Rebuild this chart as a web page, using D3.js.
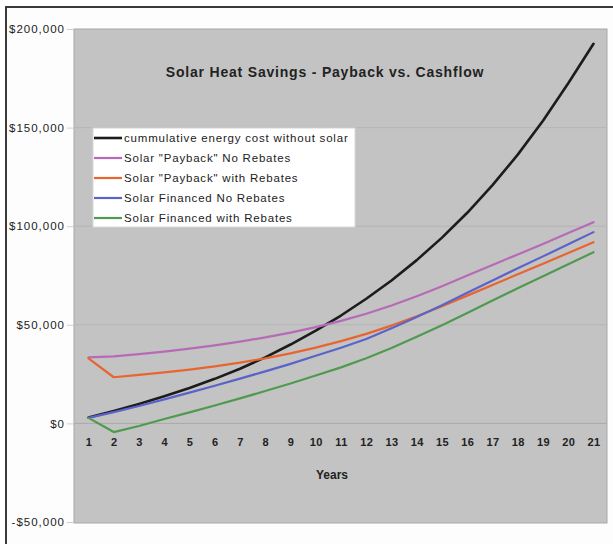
<!DOCTYPE html>
<html>
<head>
<meta charset="utf-8">
<script src="https://cdn.jsdelivr.net/npm/d3@7/dist/d3.min.js"></script>
<style>
  html, body { margin: 0; padding: 0; background: #ffffff; }
  svg { display: block; }
  text { font-family: Arial, "Liberation Sans", Helvetica, sans-serif; fill: #222; }
</style>
</head>
<body>
<svg id="chart" width="613" height="544"></svg>
<script>
// ---- data ----
const years = [1, 2, 3, 4, 5, 6, 7, 8, 9, 10, 11, 12, 13, 14, 15, 16, 17, 18, 19, 20, 21];

const costWithoutSolar = [3000, 6300, 9900, 13800, 18000, 22600, 27700, 33500, 40000, 47000, 54700,
  63200, 72500, 82800, 94200, 106800, 120800, 136300, 153500, 172500, 192500];

const paybackNoRebates = [33500, 34000, 35100, 36400, 37900, 39600, 41500, 43600, 46000, 48800, 52000,
  55600, 59800, 64500, 69600, 75000, 80300, 85700, 91000, 96500, 102000];

const paybackWithRebates = [33000, 23400, 24600, 25900, 27300, 28900, 30800, 33000, 35500, 38400, 41700,
  45400, 49600, 54300, 59400, 64800, 70200, 75600, 81000, 86400, 91900];

const financedNoRebates = [2800, 5700, 8800, 12200, 15600, 19100, 22700, 26400, 30200, 34300, 38400,
  42800, 48200, 54000, 59900, 66200, 72500, 78700, 84700, 90800, 97000];

const financedWithRebates = [2800, -4400, -1300, 2200, 5600, 9100, 12700, 16400, 20200, 24300, 28400,
  33000, 38200, 43900, 49800, 56000, 62300, 68500, 74600, 80700, 86800];

const seriesNames = [
  "cummulative energy cost without solar",
  "Solar \"Payback\" No Rebates",
  "Solar \"Payback\" with Rebates",
  "Solar Financed No Rebates",
  "Solar Financed with Rebates"
];
const seriesColors = ["#1c1c1c", "#b76ab8", "#e8652f", "#5b63c9", "#4f9a4f"];
const seriesValues = [costWithoutSolar, paybackNoRebates, paybackWithRebates, financedNoRebates, financedWithRebates];

const yTickValues = [-50000, 0, 50000, 100000, 150000, 200000];
const yTickLabels = ["-$50,000", "$0", "$50,000", "$100,000", "$150,000", "$200,000"];

const titleText = "Solar Heat Savings - Payback vs. Cashflow";
const xAxisTitle = "Years";

// ---- layout ----
const svg = d3.select("#chart");
const plot = { left: 74, top: 29, right: 607, bottom: 523 };

// outer frame (top & left visible)
svg.append("rect").attr("x", 0).attr("y", 0).attr("width", 613).attr("height", 544).attr("fill", "#ffffff");
svg.append("rect")
  .attr("x", 6).attr("y", 7).attr("width", 640).attr("height", 600)
  .attr("fill", "#fdfdfd").attr("stroke", "#3a3a3a").attr("stroke-width", 2);

// plot background
svg.append("rect")
  .attr("x", plot.left).attr("y", plot.top)
  .attr("width", plot.right - plot.left).attr("height", plot.bottom - plot.top)
  .attr("fill", "#c3c3c3").attr("stroke", "#a8a8a8").attr("stroke-width", 1);

const y = d3.scaleLinear().domain([-50000, 200000]).range([522, 29]);
const x = d3.scalePoint().domain(years).range([88.5, 593.5]);

// gridlines
svg.append("g").selectAll("line")
  .data(yTickValues.filter(v => v !== -50000 && v !== 200000))
  .join("line")
  .attr("x1", plot.left).attr("x2", plot.right)
  .attr("y1", d => y(d)).attr("y2", d => y(d))
  .attr("stroke", d => d === 0 ? "#a9a9a9" : "#b6b6b6")
  .attr("stroke-width", 1);

// y axis
const yAxis = d3.axisLeft(y)
  .tickValues(yTickValues)
  .tickSize(7)
  .tickPadding(2)
  .tickFormat((d, i) => yTickLabels[i]);
const gy = svg.append("g").attr("transform", `translate(${plot.left},0)`).call(yAxis);
gy.select(".domain").remove();
gy.selectAll(".tick line").attr("stroke", "#cfcfcf");
gy.selectAll(".tick text")
  .attr("font-size", 11.5).attr("letter-spacing", "1px")
  .attr("fill", "#222").attr("font-family", "Arial, 'Liberation Sans', sans-serif");

// x axis labels (at the zero line)
const xAxis = d3.axisBottom(x).tickSize(0).tickPadding(15);
const gx = svg.append("g").attr("transform", `translate(0,${y(0)})`).call(xAxis);
gx.select(".domain").remove();
gx.selectAll(".tick text")
  .attr("font-size", 11).attr("font-weight", "bold").attr("letter-spacing", "0.4px")
  .attr("fill", "#222").attr("font-family", "Arial, 'Liberation Sans', sans-serif");

// lines
const line = d3.line()
  .x((d, i) => x(years[i]))
  .y(d => y(d));

svg.append("g").selectAll("path")
  .data(seriesValues)
  .join("path")
  .attr("d", d => line(d))
  .attr("fill", "none")
  .attr("stroke", (d, i) => seriesColors[i])
  .attr("stroke-width", (d, i) => i === 0 ? 2.6 : 2.2)
  .attr("stroke-linejoin", "round")
  .attr("stroke-linecap", "round");

// title
svg.append("text")
  .attr("x", 325).attr("y", 77)
  .attr("text-anchor", "middle")
  .attr("font-size", 14).attr("font-weight", "bold")
  .attr("letter-spacing", "0.8px")
  .text(titleText);

// x axis title
svg.append("text")
  .attr("x", 332).attr("y", 479)
  .attr("text-anchor", "middle")
  .attr("font-size", 12).attr("font-weight", "bold")
  .text(xAxisTitle);

// legend
const legend = svg.append("g");
legend.append("rect")
  .attr("x", 93).attr("y", 128).attr("width", 262).attr("height", 99)
  .attr("fill", "#ffffff").attr("stroke", "#d8d8d8").attr("stroke-width", 1);
const legendY = d3.scalePoint().domain(d3.range(seriesNames.length)).range([138, 218]);
const items = legend.selectAll("g.item")
  .data(seriesNames)
  .join("g").attr("class", "item")
  .attr("transform", (d, i) => `translate(0,${legendY(i)})`);
items.append("line")
  .attr("x1", 94).attr("x2", 122).attr("y1", 0).attr("y2", 0)
  .attr("stroke", (d, i) => seriesColors[i])
  .attr("stroke-width", (d, i) => i === 0 ? 2.6 : 2.2);
items.append("text")
  .attr("x", 124).attr("y", 4)
  .attr("font-size", 11.5).attr("letter-spacing", "0.8px")
  .text(d => d);
</script>
</body>
</html>
